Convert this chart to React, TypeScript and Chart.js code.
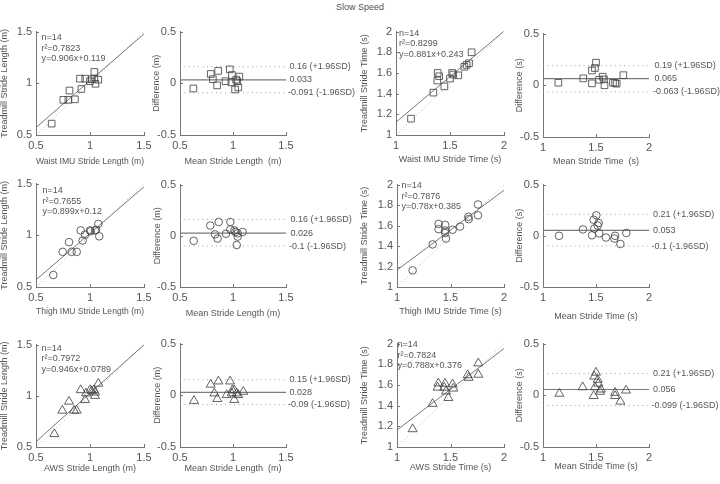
import React, { useEffect, useRef } from 'react';
import { Chart, registerables } from 'chart.js';

Chart.register(...registerables);

// ---------- tick labels ----------
const LEN_TICKS = [0.5, 1, 1.5];
const TIME_X_TICKS = [1, 1.5, 2];
const TIME_Y_TICKS = [1, 1.2, 1.4, 1.6, 1.8, 2];
const DIFF_TICKS = [-0.5, 0, 0.5];

// ---------- data: waist IMU ----------
const WAIST_LEN_IMU = [0.645, 0.753, 0.8, 0.86, 0.81, 0.92, 0.907, 0.955, 1.0, 1.04, 1.04, 1.05, 1.077, 1.015];
const WAIST_LEN_TM = [0.61, 0.84, 0.84, 0.845, 0.93, 0.945, 1.045, 1.045, 1.02, 1.11, 1.045, 0.995, 1.035, 1.04];
const WAIST_LEN_MEAN = [0.626, 0.79, 0.81, 0.85, 0.86, 0.93, 0.97, 0.99, 0.985, 1.02, 1.04, 1.05, 1.06, 1.03];
const WAIST_LEN_DIFF = [-0.05, 0.09, 0.04, -0.02, 0.12, 0.02, 0.135, 0.08, 0.01, -0.06, 0.02, -0.04, 0.065, 0.035];

const WAIST_TIME_IMU = [1.139, 1.346, 1.448, 1.386, 1.4, 1.383, 1.5, 1.52, 1.53, 1.577, 1.633, 1.654, 1.676, 1.7];
const WAIST_TIME_TM = [1.158, 1.41, 1.47, 1.6, 1.568, 1.527, 1.546, 1.6, 1.585, 1.577, 1.66, 1.678, 1.694, 1.8];
const WAIST_TIME_MEAN = [1.145, 1.38, 1.462, 1.462, 1.49, 1.5, 1.53, 1.563, 1.58, 1.575, 1.66, 1.68, 1.695, 1.758];
const WAIST_TIME_DIFF = [0.025, 0.067, 0.019, 0.143, 0.167, 0.219, 0.054, 0.083, 0.0, 0.057, 0.025, 0.022, 0.016, 0.098];

// ---------- data: thigh IMU ----------
const THIGH_LEN_IMU = [0.66, 0.747, 0.806, 0.83, 0.877, 0.914, 0.932, 0.954, 1.0, 1.006, 1.046, 1.056, 1.077, 1.086];
const THIGH_LEN_TM = [0.616, 0.84, 0.934, 0.84, 0.84, 1.047, 0.95, 1.006, 1.047, 1.04, 1.047, 1.053, 1.11, 0.99];
const THIGH_LEN_MEAN = [0.629, 0.786, 0.865, 0.83, 0.855, 0.934, 0.975, 0.975, 1.013, 1.022, 1.044, 1.044, 1.035, 1.09];
const THIGH_LEN_DIFF = [-0.049, 0.1, 0.135, 0.014, -0.027, 0.02, 0.135, 0.062, 0.052, 0.037, 0.024, -0.008, -0.09, 0.037];

const THIGH_TIME_IMU = [1.146, 1.333, 1.389, 1.389, 1.45, 1.45, 1.458, 1.45, 1.52, 1.589, 1.667, 1.67, 1.757, 1.757];
const THIGH_TIME_TM = [1.162, 1.416, 1.616, 1.565, 1.606, 1.552, 1.473, 1.527, 1.559, 1.59, 1.686, 1.663, 1.806, 1.7];
const THIGH_TIME_MEAN = [1.151, 1.377, 1.462, 1.484, 1.478, 1.503, 1.525, 1.516, 1.53, 1.594, 1.68, 1.673, 1.73, 1.786];
const THIGH_TIME_DIFF = [0.0, 0.062, 0.005, 0.071, 0.157, 0.2, 0.125, 0.1, 0.024, -0.017, 0.0, -0.027, -0.08, 0.027];

// ---------- data: AWS ----------
const AWS_LEN_IMU = [0.67, 0.744, 0.806, 0.852, 0.877, 0.914, 0.954, 0.963, 1.0, 1.015, 1.037, 1.046, 1.077, 1.046];
const AWS_LEN_TM = [0.627, 0.856, 0.944, 0.856, 0.856, 1.056, 0.96, 1.024, 1.056, 1.046, 1.056, 1.033, 1.119, 1.0];
const AWS_LEN_MEAN = [0.632, 0.79, 0.862, 0.824, 0.852, 0.972, 0.94, 0.994, 1.012, 1.035, 1.05, 1.012, 1.097, 0.987];
const AWS_LEN_DIFF = [-0.053, 0.104, 0.135, 0.019, -0.035, 0.135, 0.003, 0.05, 0.05, 0.019, 0.003, -0.044, 0.035, 0.019];

const AWS_TIME_IMU = [1.146, 1.333, 1.386, 1.38, 1.449, 1.442, 1.458, 1.48, 1.52, 1.526, 1.66, 1.67, 1.76, 1.76];
const AWS_TIME_TM = [1.173, 1.418, 1.616, 1.575, 1.613, 1.575, 1.538, 1.475, 1.607, 1.566, 1.695, 1.67, 1.81, 1.7];
const AWS_TIME_MEAN = [1.154, 1.374, 1.478, 1.484, 1.5, 1.516, 1.522, 1.49, 1.547, 1.538, 1.68, 1.68, 1.73, 1.783];
const AWS_TIME_DIFF = [0.016, 0.079, -0.006, 0.182, 0.22, 0.151, 0.113, 0.079, 0.057, 0.035, 0.025, -0.006, -0.06, 0.047];

// ---------- statistics (order: waist len, waist time, thigh len, thigh time, aws len, aws time) ----------
const N_SUBJECTS = 14;
const REG_R2 = [0.7823, 0.8299, 0.7655, 0.7876, 0.7972, 0.7824];
const REG_SLOPE = [0.906, 0.881, 0.899, 0.78, 0.946, 0.788];
const REG_INTERCEPT = [0.119, 0.243, 0.12, 0.385, 0.0789, 0.376];
const BA_UPPER = [0.16, 0.19, 0.16, 0.21, 0.15, 0.21];
const BA_MEAN = [0.033, 0.065, 0.026, 0.053, 0.028, 0.056];
const BA_LOWER = [-0.091, -0.063, -0.1, -0.1, -0.09, -0.099];

const FIG_TITLE = 'Slow Speed';

// ---------- styling ----------
const FONT = '"Liberation Sans", Arial, Helvetica, sans-serif';
const TEXT = '#555555';
const AXIS = '#767676';
const MARK = '#474747';
const TICK_FONT = 11;
const SMALL_FONT = 9;
const TL = (SMALL_FONT * 1.2) / 2;
const PAD_TOP = 8;

type Marker = 'rect' | 'circle' | 'triangle';
type PanelCfg = {
  kind: 'scatter' | 'ba';
  xs: number[];
  ys: number[];
  marker: Marker;
  xRange: [number, number];
  yRange: [number, number];
  xTicks: number[];
  yTicks: number[];
  xTitle: string;
  yTitle: string;
  box: [number, number, number, number];
  yTitleX: number;
  xTitleY: number;
  padRight: number;
  stat: number;
  annDx: number;
  annDy: number;
};

const RADIUS: Record<Marker, number> = { rect: 4.7, circle: 3.8, triangle: 5.2 };

const PANELS: PanelCfg[] = [
  {
    kind: 'scatter', xs: WAIST_LEN_IMU, ys: WAIST_LEN_TM, marker: 'rect',
    xRange: [0.5, 1.5], yRange: [0.5, 1.5], xTicks: LEN_TICKS, yTicks: LEN_TICKS,
    xTitle: 'Waist IMU Stride Length (m)', yTitle: 'Treadmill Stride Length (m)',
    box: [36, 29, 144, 135], yTitleX: 4, xTitleY: 162, padRight: 12, stat: 0, annDx: 5.5, annDy: 6,
  },
  {
    kind: 'ba', xs: WAIST_LEN_MEAN, ys: WAIST_LEN_DIFF, marker: 'rect',
    xRange: [0.5, 1.5], yRange: [-0.5, 0.5], xTicks: LEN_TICKS, yTicks: DIFF_TICKS,
    xTitle: 'Mean Stride Length  (m)', yTitle: 'Difference (m)',
    box: [180, 29, 286, 135], yTitleX: 156, xTitleY: 162, padRight: 76, stat: 0, annDx: 3.5, annDy: 0,
  },
  {
    kind: 'scatter', xs: WAIST_TIME_IMU, ys: WAIST_TIME_TM, marker: 'rect',
    xRange: [1, 2], yRange: [1, 2], xTicks: TIME_X_TICKS, yTicks: TIME_Y_TICKS,
    xTitle: 'Waist IMU Stride Time (s)', yTitle: 'Treadmill Stride Time (s)',
    box: [396, 29, 504, 135], yTitleX: 364, xTitleY: 160, padRight: 12, stat: 1, annDx: 3, annDy: 1.5,
  },
  {
    kind: 'ba', xs: WAIST_TIME_MEAN, ys: WAIST_TIME_DIFF, marker: 'rect',
    xRange: [1, 2], yRange: [-0.5, 0.5], xTicks: TIME_X_TICKS, yTicks: DIFF_TICKS,
    xTitle: 'Mean Stride Time  (s)', yTitle: 'Difference (s)',
    box: [543, 31, 649, 137], yTitleX: 519, xTitleY: 162, padRight: 71, stat: 1, annDx: 5.5, annDy: 0,
  },
  {
    kind: 'scatter', xs: THIGH_LEN_IMU, ys: THIGH_LEN_TM, marker: 'circle',
    xRange: [0.5, 1.5], yRange: [0.5, 1.5], xTicks: LEN_TICKS, yTicks: LEN_TICKS,
    xTitle: 'Thigh IMU Stride Length (m)', yTitle: 'Treadmill Stride Length (m)',
    box: [36, 181, 144, 287], yTitleX: 4, xTitleY: 312, padRight: 12, stat: 2, annDx: 6.5, annDy: 7,
  },
  {
    kind: 'ba', xs: THIGH_LEN_MEAN, ys: THIGH_LEN_DIFF, marker: 'circle',
    xRange: [0.5, 1.5], yRange: [-0.5, 0.5], xTicks: LEN_TICKS, yTicks: DIFF_TICKS,
    xTitle: 'Mean Stride Length (m)', yTitle: 'Difference (m)',
    box: [180, 182, 286, 287], yTitleX: 157, xTitleY: 314, padRight: 76, stat: 2, annDx: 4.5, annDy: 0,
  },
  {
    kind: 'scatter', xs: THIGH_TIME_IMU, ys: THIGH_TIME_TM, marker: 'circle',
    xRange: [1, 2], yRange: [1, 2], xTicks: TIME_X_TICKS, yTicks: TIME_Y_TICKS,
    xTitle: 'Thigh IMU Stride Time (s)', yTitle: 'Treadmill Stride Time (s)',
    box: [397, 182, 504, 287], yTitleX: 364, xTitleY: 312, padRight: 12, stat: 3, annDx: 4.5, annDy: 1,
  },
  {
    kind: 'ba', xs: THIGH_TIME_MEAN, ys: THIGH_TIME_DIFF, marker: 'circle',
    xRange: [1, 2], yRange: [-0.5, 0.5], xTicks: TIME_X_TICKS, yTicks: DIFF_TICKS,
    xTitle: 'Mean Stride Time (s)', yTitle: 'Difference (s)',
    box: [543, 182, 649, 287], yTitleX: 519, xTitleY: 317, padRight: 71, stat: 3, annDx: 4, annDy: 0,
  },
  {
    kind: 'scatter', xs: AWS_LEN_IMU, ys: AWS_LEN_TM, marker: 'triangle',
    xRange: [0.5, 1.5], yRange: [0.5, 1.5], xTicks: LEN_TICKS, yTicks: LEN_TICKS,
    xTitle: 'AWS Stride Length (m)', yTitle: 'Treadmill Stride Length (m)',
    box: [36, 342, 144, 447], yTitleX: 4, xTitleY: 469, padRight: 12, stat: 4, annDx: 5.5, annDy: 3.5,
  },
  {
    kind: 'ba', xs: AWS_LEN_MEAN, ys: AWS_LEN_DIFF, marker: 'triangle',
    xRange: [0.5, 1.5], yRange: [-0.5, 0.5], xTicks: LEN_TICKS, yTicks: DIFF_TICKS,
    xTitle: 'Mean Stride Length  (m)', yTitle: 'Difference (m)',
    box: [180, 341, 286, 447], yTitleX: 157, xTitleY: 469, padRight: 76, stat: 4, annDx: 3.5, annDy: 0,
  },
  {
    kind: 'scatter', xs: AWS_TIME_IMU, ys: AWS_TIME_TM, marker: 'triangle',
    xRange: [1, 2], yRange: [1, 2], xTicks: TIME_X_TICKS, yTicks: TIME_Y_TICKS,
    xTitle: 'AWS Stride Time (s)', yTitle: 'Treadmill Stride Time (s)',
    box: [397, 341, 504, 447], yTitleX: 364, xTitleY: 468, padRight: 12, stat: 5, annDx: 0.5, annDy: 1,
  },
  {
    kind: 'ba', xs: AWS_TIME_MEAN, ys: AWS_TIME_DIFF, marker: 'triangle',
    xRange: [1, 2], yRange: [-0.5, 0.5], xTicks: TIME_X_TICKS, yTicks: DIFF_TICKS,
    xTitle: 'Mean Stride Time (s)', yTitle: 'Difference (s)',
    box: [543, 341, 649, 447], yTitleX: 519, xTitleY: 467, padRight: 71, stat: 5, annDx: 4, annDy: 0,
  },
];

function geom(c: PanelCfg) {
  const left = Math.round(c.yTitleX - TL);
  const top = c.box[1] - PAD_TOP;
  const right = c.box[2] + c.padRight;
  const bottom = Math.round(c.xTitleY + TL);
  return {
    left, top, width: right - left, height: bottom - top,
    yW: c.box[0] - left, xH: bottom - c.box[3],
  };
}

const fmt = (v: number) => String(+(+v).toFixed(2));

function Panel({ cfg }: { cfg: PanelCfg }) {
  const ref = useRef<HTMLCanvasElement>(null);
  const g = geom(cfg);

  useEffect(() => {
    const c = cfg;
    const [x0, x1] = c.xRange;
    const [y0, y1] = c.yRange;
    const pts = c.xs.map((x, i) => ({ x, y: c.ys[i] }));
    const datasets: any[] = [
      {
        data: pts, pointStyle: c.marker, pointRadius: RADIUS[c.marker], pointHoverRadius: RADIUS[c.marker],
        pointBorderColor: MARK, pointBackgroundColor: 'rgba(0,0,0,0)', pointBorderWidth: 0.85, showLine: false,
      },
    ];
    if (c.kind === 'scatter') {
      const a = REG_SLOPE[c.stat], b = REG_INTERCEPT[c.stat];
      datasets.push({
        data: [{ x: x0, y: a * x0 + b }, { x: x1, y: a * x1 + b }],
        showLine: true, borderColor: '#555555', borderWidth: 0.8, pointRadius: 0,
      });
      datasets.push({
        data: [{ x: Math.max(x0, y0), y: Math.max(x0, y0) }, { x: Math.min(x1, y1), y: Math.min(x1, y1) }],
        showLine: true, borderColor: '#b4b4b4', borderWidth: 1, borderDash: [1, 2.5], pointRadius: 0,
      });
    } else {
      datasets.push({
        data: [{ x: x0, y: BA_MEAN[c.stat] }, { x: x1, y: BA_MEAN[c.stat] }],
        showLine: true, borderColor: '#7a7a7a', borderWidth: 1.2, pointRadius: 0,
      });
      [BA_UPPER[c.stat], BA_LOWER[c.stat]].forEach((v) =>
        datasets.push({
          data: [{ x: x0, y: v }, { x: x1, y: v }],
          showLine: true, borderColor: '#a0a0a0', borderWidth: 1, borderDash: [1, 3.5], pointRadius: 0,
        })
      );
    }

    const overlay = {
      id: 'overlay',
      afterDraw(chart: any) {
        const ctx = chart.ctx;
        const ca = chart.chartArea;
        const xs = chart.scales.x, ys = chart.scales.y;
        ctx.save();
        // inward tick marks
        ctx.beginPath();
        ctx.strokeStyle = AXIS;
        ctx.lineWidth = 1;
        xs.ticks.forEach((t: any) => {
          const px = Math.round(xs.getPixelForValue(t.value)) + 0.5;
          ctx.moveTo(px, ca.bottom);
          ctx.lineTo(px, ca.bottom - 3);
        });
        ys.ticks.forEach((t: any) => {
          const py = Math.round(ys.getPixelForValue(t.value)) + 0.5;
          ctx.moveTo(ca.left, py);
          ctx.lineTo(ca.left + 3, py);
        });
        ctx.stroke();
        ctx.fillStyle = TEXT;
        ctx.font = `${SMALL_FONT}px ${FONT}`;
        ctx.textBaseline = 'middle';
        ctx.textAlign = 'left';
        if (c.kind === 'scatter') {
          const lines = [
            `n=${N_SUBJECTS}`,
            `r\u00B2=${REG_R2[c.stat]}`,
            `y=${REG_SLOPE[c.stat]}x+${REG_INTERCEPT[c.stat]}`,
          ];
          lines.forEach((s, i) => ctx.fillText(s, ca.left + c.annDx, ca.top + c.annDy + i * 10.6));
        } else {
          const labs: [number, string][] = [
            [BA_UPPER[c.stat], `${BA_UPPER[c.stat]} (+1.96SD)`],
            [BA_MEAN[c.stat], `${BA_MEAN[c.stat]}`],
            [BA_LOWER[c.stat], `${BA_LOWER[c.stat]} (-1.96SD)`],
          ];
          labs.forEach(([v, s]) => {
            const dx = v < 0 ? c.annDx - 1.5 : c.annDx;
            ctx.fillText(s, ca.right + dx, ys.getPixelForValue(v));
          });
        }
        ctx.restore();
      },
    };

    const axisCommon = (ticksArr: number[], range: [number, number], title: string) => ({
      type: 'linear',
      min: range[0],
      max: range[1],
      afterBuildTicks: (s: any) => {
        s.ticks = ticksArr.map((v) => ({ value: v }));
      },
      grid: { display: false, drawTicks: false },
      border: { display: true, color: AXIS, width: 1 },
      ticks: {
        color: TEXT, font: { family: FONT, size: TICK_FONT }, padding: 4,
        maxRotation: 0, minRotation: 0, autoSkip: false, callback: (v: any) => fmt(v),
      },
      title: {
        display: true, text: title, color: TEXT, padding: 0,
        font: { family: FONT, size: SMALL_FONT, lineHeight: 1.2 },
      },
    });

    const chart = new Chart(ref.current as HTMLCanvasElement, {
      type: 'scatter',
      data: { datasets },
      options: {
        responsive: false,
        animation: false,
        events: [],
        layout: { padding: { top: PAD_TOP, right: c.padRight, left: 0, bottom: 0 } },
        plugins: { legend: { display: false }, tooltip: { enabled: false }, title: { display: false } },
        scales: {
          x: { ...axisCommon(c.xTicks, c.xRange, c.xTitle), afterFit: (s: any) => { s.height = g.xH; } },
          y: { ...axisCommon(c.yTicks, c.yRange, c.yTitle), afterFit: (s: any) => { s.width = g.yW; } },
        } as any,
      },
      plugins: [overlay],
    } as any);
    return () => chart.destroy();
  }, []);

  return (
    <canvas
      ref={ref}
      width={g.width}
      height={g.height}
      style={{ position: 'absolute', left: g.left, top: g.top, width: g.width, height: g.height }}
    />
  );
}

export default function App() {
  return (
    <div
      style={{
        position: 'absolute', left: 0, top: 0, width: 720, height: 484,
        background: '#ffffff', overflow: 'hidden', fontFamily: FONT,
      }}
    >
      <div
        style={{
          position: 'absolute', left: 0, top: 1, width: 720, textAlign: 'center',
          fontSize: SMALL_FONT, lineHeight: '12px', color: TEXT,
        }}
      >
        {FIG_TITLE}
      </div>
      {PANELS.map((p, i) => (
        <Panel key={i} cfg={p} />
      ))}
    </div>
  );
}
